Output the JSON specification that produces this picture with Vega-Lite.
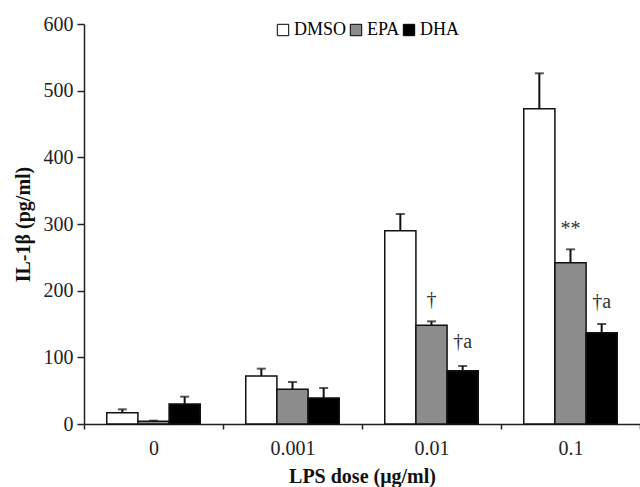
{
  "$schema": "https://vega.github.io/schema/vega-lite/v6.json",
  "width": 556,
  "height": 400,
  "autosize": "none",
  "padding": {"left": 84, "top": 24, "right": 0, "bottom": 63},
  "background": "white",
  "config": {
    "view": {"stroke": null},
    "font": "Liberation Serif",
    "axis": {
      "grid": false,
      "domainColor": "#222",
      "tickColor": "#222",
      "domainWidth": 1.5,
      "tickWidth": 1.5,
      "labelFont": "Liberation Serif",
      "titleFont": "Liberation Serif",
      "labelFontSize": 20,
      "titleFontSize": 20,
      "titleFontWeight": "bold",
      "labelColor": "#222",
      "titleColor": "#111"
    }
  },
  "datasets": {
    "bars": [
      {"dose": "0", "treatment": "DMSO", "mean": 17, "upper": 22},
      {"dose": "0", "treatment": "EPA", "mean": 4, "upper": 5},
      {"dose": "0", "treatment": "DHA", "mean": 30, "upper": 41},
      {"dose": "0.001", "treatment": "DMSO", "mean": 72, "upper": 83},
      {"dose": "0.001", "treatment": "EPA", "mean": 52, "upper": 63},
      {"dose": "0.001", "treatment": "DHA", "mean": 39, "upper": 54},
      {"dose": "0.01", "treatment": "DMSO", "mean": 290, "upper": 315},
      {"dose": "0.01", "treatment": "EPA", "mean": 148, "upper": 154},
      {"dose": "0.01", "treatment": "DHA", "mean": 80, "upper": 87},
      {"dose": "0.1", "treatment": "DMSO", "mean": 473, "upper": 526},
      {"dose": "0.1", "treatment": "EPA", "mean": 242, "upper": 262},
      {"dose": "0.1", "treatment": "DHA", "mean": 137, "upper": 150}
    ],
    "notes": [
      {"dose": "0.01", "treatment": "EPA", "label": "†", "pos": 186},
      {"dose": "0.01", "treatment": "DHA", "label": "†a", "pos": 123},
      {"dose": "0.1", "treatment": "EPA", "label": "**", "pos": 293},
      {"dose": "0.1", "treatment": "DHA", "label": "†a", "pos": 183}
    ]
  },
  "encoding": {
    "x": {
      "field": "dose",
      "type": "nominal",
      "scale": {"domain": ["0", "0.001", "0.01", "0.1"], "paddingInner": 0, "paddingOuter": 0},
      "axis": {
        "title": "LPS dose (μg/ml)",
        "tickBand": "extent",
        "labelAngle": 0,
        "tickSize": 5,
        "labelPadding": 9,
        "titlePadding": 8
      }
    },
    "xOffset": {
      "field": "treatment",
      "type": "nominal",
      "scale": {"domain": ["DMSO", "EPA", "DHA"], "paddingInner": 0, "paddingOuter": 0.73}
    }
  },
  "layer": [
    {
      "data": {"name": "bars"},
      "mark": {"type": "rule", "color": "#111", "strokeWidth": 2},
      "encoding": {
        "y": {"field": "mean", "type": "quantitative"},
        "y2": {"field": "upper"}
      }
    },
    {
      "data": {"name": "bars"},
      "mark": {"type": "tick", "color": "#111", "size": 9, "thickness": 2, "orient": "horizontal"},
      "encoding": {
        "y": {"field": "upper", "type": "quantitative"}
      }
    },
    {
      "data": {"name": "bars"},
      "mark": {"type": "bar", "stroke": "#111", "strokeWidth": 1.5, "opacity": 1},
      "encoding": {
        "y": {
          "field": "mean",
          "type": "quantitative",
          "scale": {"domain": [0, 600], "nice": false},
          "axis": {
            "title": "IL-1β (pg/ml)",
            "values": [0, 100, 200, 300, 400, 500, 600],
            "tickSize": 7,
            "labelPadding": 4,
            "titlePadding": 10
          }
        },
        "fill": {
          "field": "treatment",
          "type": "nominal",
          "scale": {"domain": ["DMSO", "EPA", "DHA"], "range": ["white", "#8c8c8c", "black"]},
          "legend": {
            "orient": "none",
            "legendX": 190,
            "legendY": -3,
            "direction": "horizontal",
            "title": null,
            "symbolType": "square",
            "symbolSize": 130,
            "symbolStrokeColor": "black",
            "symbolStrokeWidth": 1,
            "symbolOpacity": 1,
            "labelFont": "Liberation Serif",
            "labelFontSize": 18,
            "labelColor": "black",
            "labelOffset": 2,
            "columnPadding": 0
          }
        }
      }
    },
    {
      "data": {"name": "notes"},
      "mark": {"type": "text", "font": "Liberation Serif", "fontSize": 20, "color": "#333", "baseline": "middle", "align": "center"},
      "encoding": {
        "y": {"field": "pos", "type": "quantitative"},
        "text": {"field": "label"}
      }
    }
  ]
}
